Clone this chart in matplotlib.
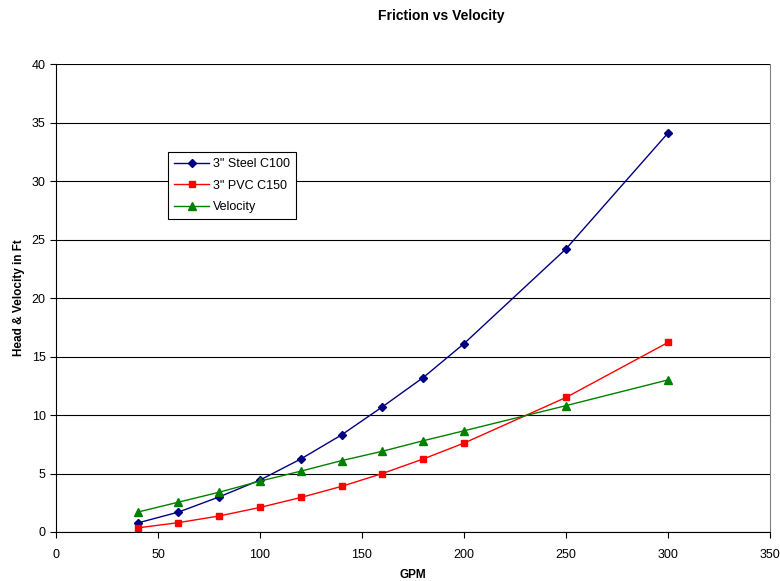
import matplotlib
matplotlib.use("Agg")
import matplotlib.pyplot as plt

gpm = [40, 60, 80, 100, 120, 140, 160, 180, 200, 250, 300]
steel = [0.77, 1.7, 3.0, 4.44, 6.24, 8.3, 10.7, 13.2, 16.1, 24.2, 34.1]
pvc = [0.35, 0.8, 1.37, 2.1, 2.95, 3.9, 5.0, 6.24, 7.6, 11.5, 16.2]
velocity = [1.7, 2.55, 3.4, 4.35, 5.2, 6.1, 6.9, 7.8, 8.65, 10.8, 13.0]

plt.rcParams['font.family'] = ['Liberation Sans', 'DejaVu Sans']

fig = plt.figure(figsize=(7.8, 5.81), dpi=100)
ax = fig.add_axes([56/780, 49/581, 714/780, 468/581])

ax.plot(gpm, steel, color='#000080', marker='D', markersize=4, lw=1, label='3" Steel C100')
ax.plot(gpm, pvc, color='#FF0000', marker='s', markersize=5, lw=1, label='3" PVC C150')
ax.plot(gpm, velocity, color='#008000', marker='^', markersize=5.5, lw=1, label='Velocity')

ax.set_xlim(0, 350)
ax.set_ylim(0, 40)
ax.set_xticks(range(0, 351, 50))
ax.set_yticks(range(0, 41, 5))
ax.yaxis.grid(True, color='black', lw=0.8)
ax.set_axisbelow(True)
ax.spines['top'].set_visible(False)
ax.spines['right'].set_color('#808080')
ax.tick_params(labelsize=9, direction='out', length=4, width=0.8)
ax.tick_params(axis='x', pad=8)
ax.set_xlabel('GPM', fontsize=8.5, fontweight='bold', labelpad=6)
ax.set_ylabel('Head & Velocity in Ft', fontsize=8.5, fontweight='bold', labelpad=5)

fig.text(441/780, 1 - 16/581, 'Friction vs Velocity', ha='center', va='center',
         fontsize=10, fontweight='bold')

leg = ax.legend(loc='upper left', bbox_to_anchor=((168-56)/714, (532-152)/468),
                fontsize=9, frameon=True, fancybox=False, edgecolor='black',
                framealpha=1, borderpad=0.5, labelspacing=0.75, handlelength=2.8,
                handletextpad=0.3, borderaxespad=0)
leg.get_frame().set_linewidth(0.8)

fig.savefig('out.png', dpi=100)
